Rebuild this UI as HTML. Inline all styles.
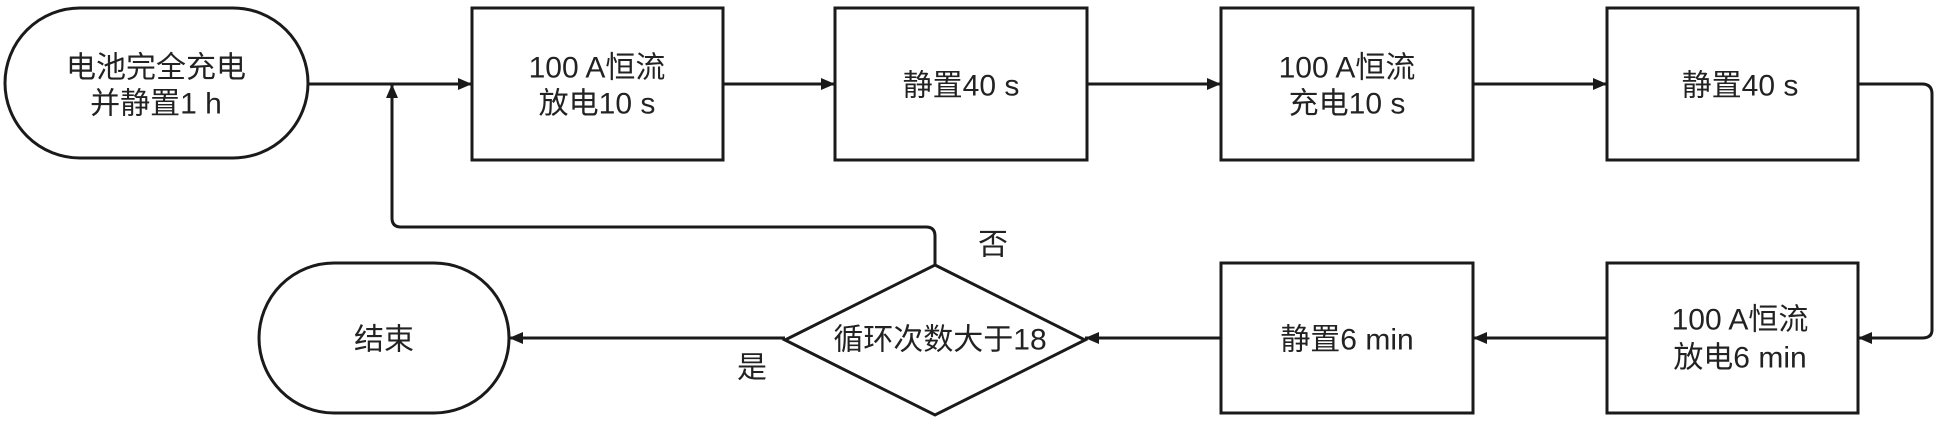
<!DOCTYPE html>
<html><head><meta charset="utf-8"><style>
html,body{margin:0;padding:0;background:#fff;}
svg{display:block;}
text{font-family:"Liberation Sans","Noto Sans CJK SC",sans-serif;font-size:30px;fill:#222;text-anchor:middle;dominant-baseline:central;}
</style></head><body>
<svg width="1949" height="423" viewBox="0 0 1949 423" xmlns="http://www.w3.org/2000/svg">
<defs>
<marker id="a" viewBox="0 0 14 12" refX="14" refY="6" markerWidth="14" markerHeight="12" markerUnits="userSpaceOnUse" orient="auto">
<path d="M0,0 L14,6 L0,12 Z" fill="#1a1a1a"/>
</marker>
</defs>
<g fill="none" stroke="#1a1a1a" stroke-width="3">
<rect x="5" y="8" width="303" height="150" rx="75" ry="75"/>
<rect x="472" y="8" width="251" height="152"/>
<rect x="835" y="8" width="252" height="152"/>
<rect x="1221" y="8" width="252" height="152"/>
<rect x="1607" y="8" width="251" height="152"/>
<rect x="1607" y="263" width="251" height="150"/>
<rect x="1221" y="263" width="252" height="150"/>
<rect x="259" y="263" width="250" height="150" rx="75" ry="75"/>
<polygon points="935,265 1085,340 935,415 785,340"/>
<line x1="308" y1="84" x2="472" y2="84" marker-end="url(#a)"/>
<line x1="723" y1="84" x2="835" y2="84" marker-end="url(#a)"/>
<line x1="1087" y1="84" x2="1221" y2="84" marker-end="url(#a)"/>
<line x1="1473" y1="84" x2="1607" y2="84" marker-end="url(#a)"/>
<path d="M1858,84 H1922 Q1932,84 1932,94 V330 Q1932,338 1922,338 H1858" marker-end="url(#a)"/>
<line x1="1607" y1="338" x2="1473" y2="338" marker-end="url(#a)"/>
<line x1="1221" y1="338" x2="1085" y2="338" marker-end="url(#a)"/>
<line x1="785" y1="338" x2="509" y2="338" marker-end="url(#a)"/>
<path d="M935,265 V236 Q935,227 926,227 H401 Q392,227 392,218 V84" marker-end="url(#a)"/>
</g>
<text x="156" y="68">电池完全充电</text>
<text x="156" y="104">并静置1 h</text>
<text x="597" y="68">100 A恒流</text>
<text x="597" y="104">放电10 s</text>
<text x="961" y="86">静置40 s</text>
<text x="1347" y="68">100 A恒流</text>
<text x="1347" y="104">充电10 s</text>
<text x="1740" y="86">静置40 s</text>
<text x="1740" y="320">100 A恒流</text>
<text x="1740" y="358">放电6 min</text>
<text x="1347" y="340">静置6 min</text>
<text x="940" y="340">循环次数大于18</text>
<text x="384" y="340">结束</text>
<text x="993" y="245">否</text>
<text x="752" y="368">是</text>
</svg>
</body></html>
